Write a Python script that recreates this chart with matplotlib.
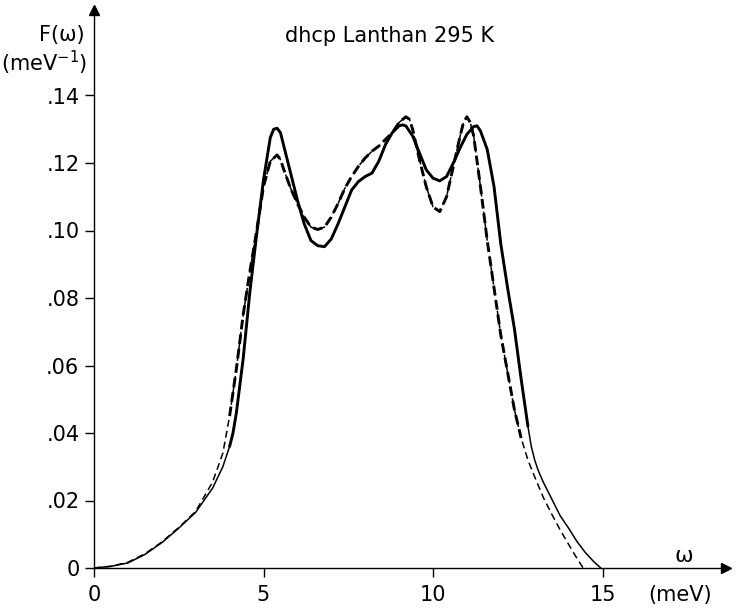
import matplotlib

matplotlib.use("Agg")
import matplotlib.pyplot as plt

# phonon density of states, dhcp La at 295 K
omega_solid = [0.0, 0.5, 1.0, 1.5, 2.0, 2.5, 3.0, 3.5, 3.8, 4.0, 4.1, 4.2, 4.4, 4.6, 4.8,
               5.0, 5.2, 5.3, 5.4, 5.5, 5.6, 5.8, 6.0, 6.2, 6.4, 6.6, 6.8, 7.0, 7.2,
               7.4, 7.6, 7.8, 8.0, 8.2, 8.4, 8.6, 8.8, 9.0, 9.1, 9.2, 9.4, 9.6, 9.8,
               10.0, 10.2, 10.4, 10.6, 10.8, 11.0, 11.2, 11.3, 11.4, 11.6, 11.8, 12.0,
               12.2, 12.4, 12.6, 12.8, 12.9, 13.0, 13.1, 13.25, 13.5, 13.75, 14.0, 14.25,
               14.5, 14.75, 14.95]
f_solid = [0.0, 0.0005, 0.0015, 0.004, 0.0075, 0.0118, 0.0165, 0.0237, 0.030, 0.036,
           0.040, 0.046, 0.062, 0.082, 0.099, 0.115, 0.1275, 0.130, 0.1303, 0.129,
           0.125, 0.117, 0.109, 0.102, 0.097, 0.0955, 0.0952, 0.0975, 0.102, 0.107,
           0.112, 0.1145, 0.116, 0.117, 0.1205, 0.1255, 0.129, 0.131, 0.1313, 0.131,
           0.128, 0.123, 0.118, 0.1155, 0.1147, 0.116, 0.120, 0.1245, 0.1285, 0.1308,
           0.131, 0.1295, 0.124, 0.113, 0.096, 0.083, 0.071, 0.056, 0.042, 0.036,
           0.032, 0.029, 0.0255, 0.0205, 0.0155, 0.0118, 0.0078, 0.0045, 0.0018, 0.0]

omega_dashed = [0.0, 0.5, 1.0, 1.5, 2.0, 2.5, 3.0, 3.5, 3.8, 4.0, 4.2, 4.4, 4.6, 4.8,
                5.0, 5.2, 5.4, 5.5, 5.6, 5.8, 6.0, 6.2, 6.4, 6.6, 6.8, 7.0, 7.2, 7.4,
                7.6, 7.8, 8.0, 8.2, 8.4, 8.6, 8.8, 9.0, 9.2, 9.3, 9.4, 9.6, 9.8, 10.0,
                10.2, 10.4, 10.6, 10.8, 10.9, 11.0, 11.1, 11.2, 11.4, 11.6, 11.8, 12.0,
                12.2, 12.4, 12.6, 12.8, 13.0, 13.25, 13.5, 13.75, 14.0, 14.25, 14.43]
f_dashed = [0.0, 0.0005, 0.0017, 0.0042, 0.0077, 0.012, 0.0168, 0.0255, 0.034, 0.045,
            0.059, 0.075, 0.088, 0.100, 0.113, 0.1205, 0.1224, 0.121, 0.118, 0.1125,
            0.108, 0.104, 0.101, 0.1003, 0.101, 0.104, 0.108, 0.1125, 0.116, 0.119,
            0.1215, 0.1235, 0.125, 0.127, 0.129, 0.132, 0.1337, 0.133, 0.130, 0.121,
            0.113, 0.107, 0.1056, 0.110, 0.119, 0.128, 0.132, 0.1337, 0.132, 0.128,
            0.113, 0.097, 0.083, 0.069, 0.058, 0.047, 0.0385, 0.032, 0.027, 0.021,
            0.016, 0.0113, 0.007, 0.0028, 0.0]

x_ticks = [0, 5, 10, 15]
y_ticks = [0, 0.02, 0.04, 0.06, 0.08, 0.10, 0.12, 0.14]
y_tick_labels = ["0", ".02", ".04", ".06", ".08", ".10", ".12", ".14"]

W, H = 739, 612
X0, X_END = 94, 726      # pixel of omega=0 and of the arrow tip
Y0, Y_END = 568, 10      # pixel of F=0 and of the arrow tip
PX_PER_MEV = 33.9
PX_PER_UNIT = 3375.0

plt.rcParams.update({
    "font.family": ["DejaVu Sans"],
    "lines.scale_dashes": False,
})

fig = plt.figure(figsize=(W / 100, H / 100), dpi=100)
ax = fig.add_axes([X0 / W, (H - Y0) / H, (X_END - X0) / W, (Y0 - Y_END) / H])
ax.set_xlim(0, (X_END - X0) / PX_PER_MEV)
ax.set_ylim(0, (Y0 - Y_END) / PX_PER_UNIT)

# thin full curves, then heavier stroke over the upper part
thin, thick = 1.1, 2.1
ax.plot(omega_solid, f_solid, color="black", lw=thin, solid_capstyle="round")
ax.plot(omega_dashed, f_dashed, color="black", lw=thin, dashes=(5, 3))
i0, i1 = omega_solid.index(4.0), omega_solid.index(12.8)
ax.plot(omega_solid[i0:i1 + 1], f_solid[i0:i1 + 1], color="black", lw=thick,
        solid_joinstyle="round", solid_capstyle="round")
j0, j1 = omega_dashed.index(4.0), omega_dashed.index(12.6)
ax.plot(omega_dashed[j0:j1 + 1], f_dashed[j0:j1 + 1], color="black", lw=thick,
        dashes=(7, 3.5))

for side in ("top", "right"):
    ax.spines[side].set_visible(False)
for side in ("left", "bottom"):
    ax.spines[side].set_linewidth(1.0)

# arrow heads
ax.plot(1, 0, marker=">", color="black", ms=7, transform=ax.transAxes, clip_on=False)
ax.plot(0, 1, marker="^", color="black", ms=7, transform=ax.transAxes, clip_on=False)

ax.set_xticks(x_ticks)
ax.set_xticklabels([str(v) for v in x_ticks])
ax.set_yticks(y_ticks)
ax.set_yticklabels(y_tick_labels)
ax.tick_params(axis="both", direction="out", length=6.5, width=1.0, labelsize=15)
ax.tick_params(axis="x", pad=6)
ax.tick_params(axis="y", pad=4)

fig.text(85 / W, 1 - 35 / H, "F(ω)", ha="right", va="center", fontsize=15)
fig.text(87 / W, 1 - 63 / H, r"(meV$^{\mathregular{-1}}$)", ha="right", va="center", fontsize=15)
fig.text(390 / W, 1 - 36 / H, "dhcp Lanthan 295 K", ha="center", va="center", fontsize=15)
fig.text(684 / W, 1 - 556 / H, "ω", ha="center", va="center", fontsize=16)
fig.text(680 / W, 1 - 595 / H, "(meV)", ha="center", va="center", fontsize=15)

fig.savefig("out.png", dpi=100)
